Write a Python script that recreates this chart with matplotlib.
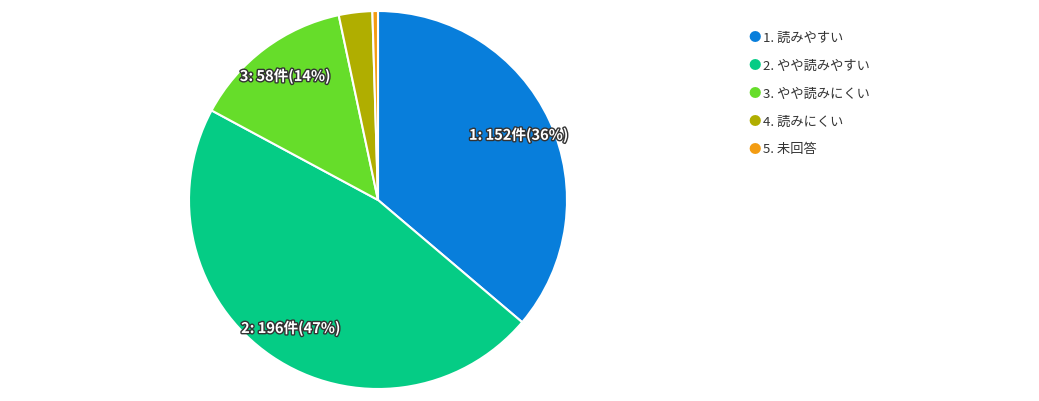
import matplotlib.pyplot as plt
import matplotlib.patheffects as pe
import numpy as np

plt.rcParams['font.family'] = ['Noto Sans CJK JP', 'DejaVu Sans']

labels = ['1. 読みやすい', '2. やや読みやすい', '3. やや読みにくい', '4. 読みにくい', '5. 未回答']
counts = [152, 196, 58, 12, 2]
pcts = [36, 47, 14, 3, 0]
colors = ['#087EDB', '#05CC85', '#66DD2A', '#B0AE00', '#F39C12']

fig = plt.figure(figsize=(10.39, 4.02), dpi=100)
ax = fig.add_axes([(378 - 189) / 1039, (201 - 189) / 402, 378 / 1039, 378 / 402])
wedges, _ = ax.pie(counts, colors=colors, startangle=90, counterclock=False,
                   wedgeprops=dict(edgecolor='white', linewidth=1.5))
ax.set_xlim(-1, 1)
ax.set_ylim(-1, 1)
ax.set_aspect('equal')

for i, w in enumerate(wedges[:3]):
    ang = np.deg2rad((w.theta1 + w.theta2) / 2)
    d = 0.82
    ax.text(d * np.cos(ang), d * np.sin(ang), '%d: %d件(%d%%)' % (i + 1, counts[i], pcts[i]),
            ha='center', va='center', color='white', fontsize=10.5, fontweight='bold',
            path_effects=[pe.withStroke(linewidth=2, foreground='#333333')])

for i, (lab, c) in enumerate(zip(labels, colors)):
    y = 1 - (38 + i * 28) / 402
    fig.text(755 / 1039, y, '●', color=c, fontsize=9, ha='center', va='center')
    fig.text(763 / 1039, y, lab, color='#333333', fontsize=9.5, ha='left', va='center')

fig.savefig('out.png', dpi=100)
